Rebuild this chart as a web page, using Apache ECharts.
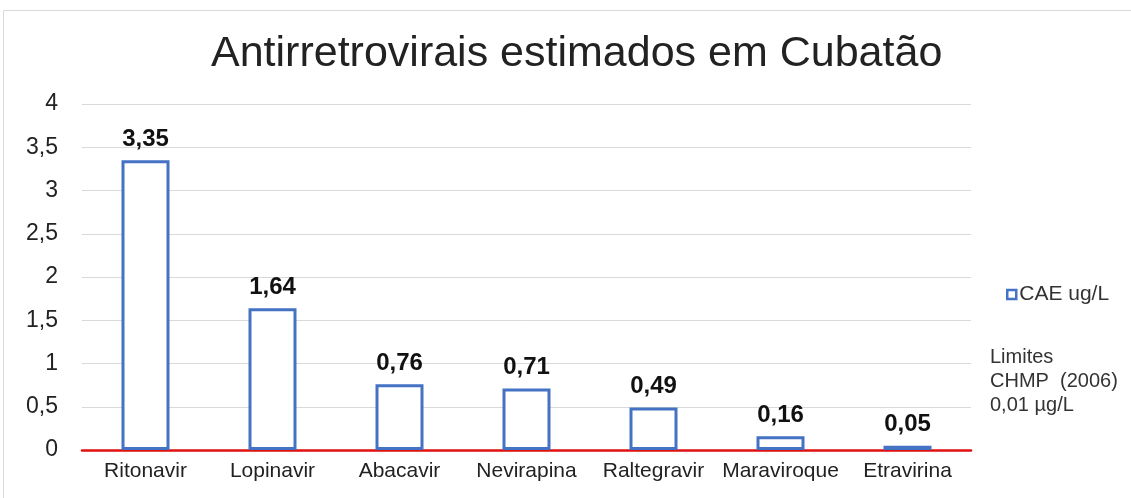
<!DOCTYPE html>
<html>
<head>
<meta charset="utf-8">
<script src="https://cdn.jsdelivr.net/npm/echarts@6/dist/echarts.min.js"></script>
<style>html,body{margin:0;padding:0;background:#fff}#c{width:1131px;height:498px}</style>
</head>
<body>
<div id="c"></div>
<script>
const categories = ['Ritonavir','Lopinavir','Abacavir','Nevirapina','Raltegravir','Maraviroque','Etravirina'];
const values = [3.35, 1.64, 0.76, 0.71, 0.49, 0.16, 0.05];
const seriesName = 'CAE ug/L';
const titleText = 'Antirretrovirais estimados em Cubatão';
const noteText = 'Limites\nCHMP  (2006)\n0,01 µg/L';
const yTicks = [0, 0.5, 1, 1.5, 2, 2.5, 3, 3.5, 4];

const fmt = v => String(v).replace('.', ',');
const font = '"Liberation Sans", Arial, sans-serif';
const chart = echarts.init(document.getElementById('c'));
chart.setOption({
  animation: false,
  backgroundColor: '#fff',
  title: {
    text: titleText, left: 206, top: 28,
    textStyle: {fontFamily: font, fontSize: 43, fontWeight: 'normal', color: '#222'}
  },
  grid: {left: 82, right: 160, top: 104, bottom: 48},
  legend: {
    data: [seriesName], left: 1001, top: 279, orient: 'vertical',
    icon: 'rect', itemWidth: 9, itemHeight: 9, itemGap: 4,
    itemStyle: {color: '#fff', borderColor: '#4472c4', borderWidth: 2.5},
    textStyle: {fontFamily: font, fontSize: 21, color: '#333', padding: [0,0,0,-2]}
  },
  graphic: [
    {type: 'rect', shape: {x: 3.5, y: 10.5, width: 1140, height: 500}, style: {fill: 'none', stroke: '#d9d9d9', lineWidth: 1}, silent: true},
    {type: 'text', left: 990, top: 345, style: {text: noteText, fontFamily: font, fontSize: 20, lineHeight: 24, fill: '#333'}}
  ],
  xAxis: {
    type: 'category', data: categories,
    axisLine: {lineStyle: {color: '#e01010', width: 2.5}},
    axisTick: {show: false},
    axisLabel: {fontFamily: font, fontSize: 21, color: '#222', margin: 11, interval: 0}
  },
  yAxis: {
    type: 'value', min: 0, max: 4, interval: 0.5,
    axisLine: {show: false}, axisTick: {show: false},
    splitLine: {lineStyle: {color: '#d9d9d9', width: 1}},
    axisLabel: {fontFamily: font, fontSize: 23, color: '#222', margin: 24,
      formatter: v => yTicks.includes(v) ? fmt(v) : ''}
  },
  series: [{
    name: seriesName, type: 'bar', data: values, barWidth: 48,
    itemStyle: {color: '#fff', borderColor: '#4472c4', borderWidth: 3},
    label: {show: true, position: 'top', distance: 9, fontFamily: font, fontSize: 24, fontWeight: 'bold', color: '#111',
      formatter: p => fmt(p.value)}
  }]
});
</script>
</body>
</html>
